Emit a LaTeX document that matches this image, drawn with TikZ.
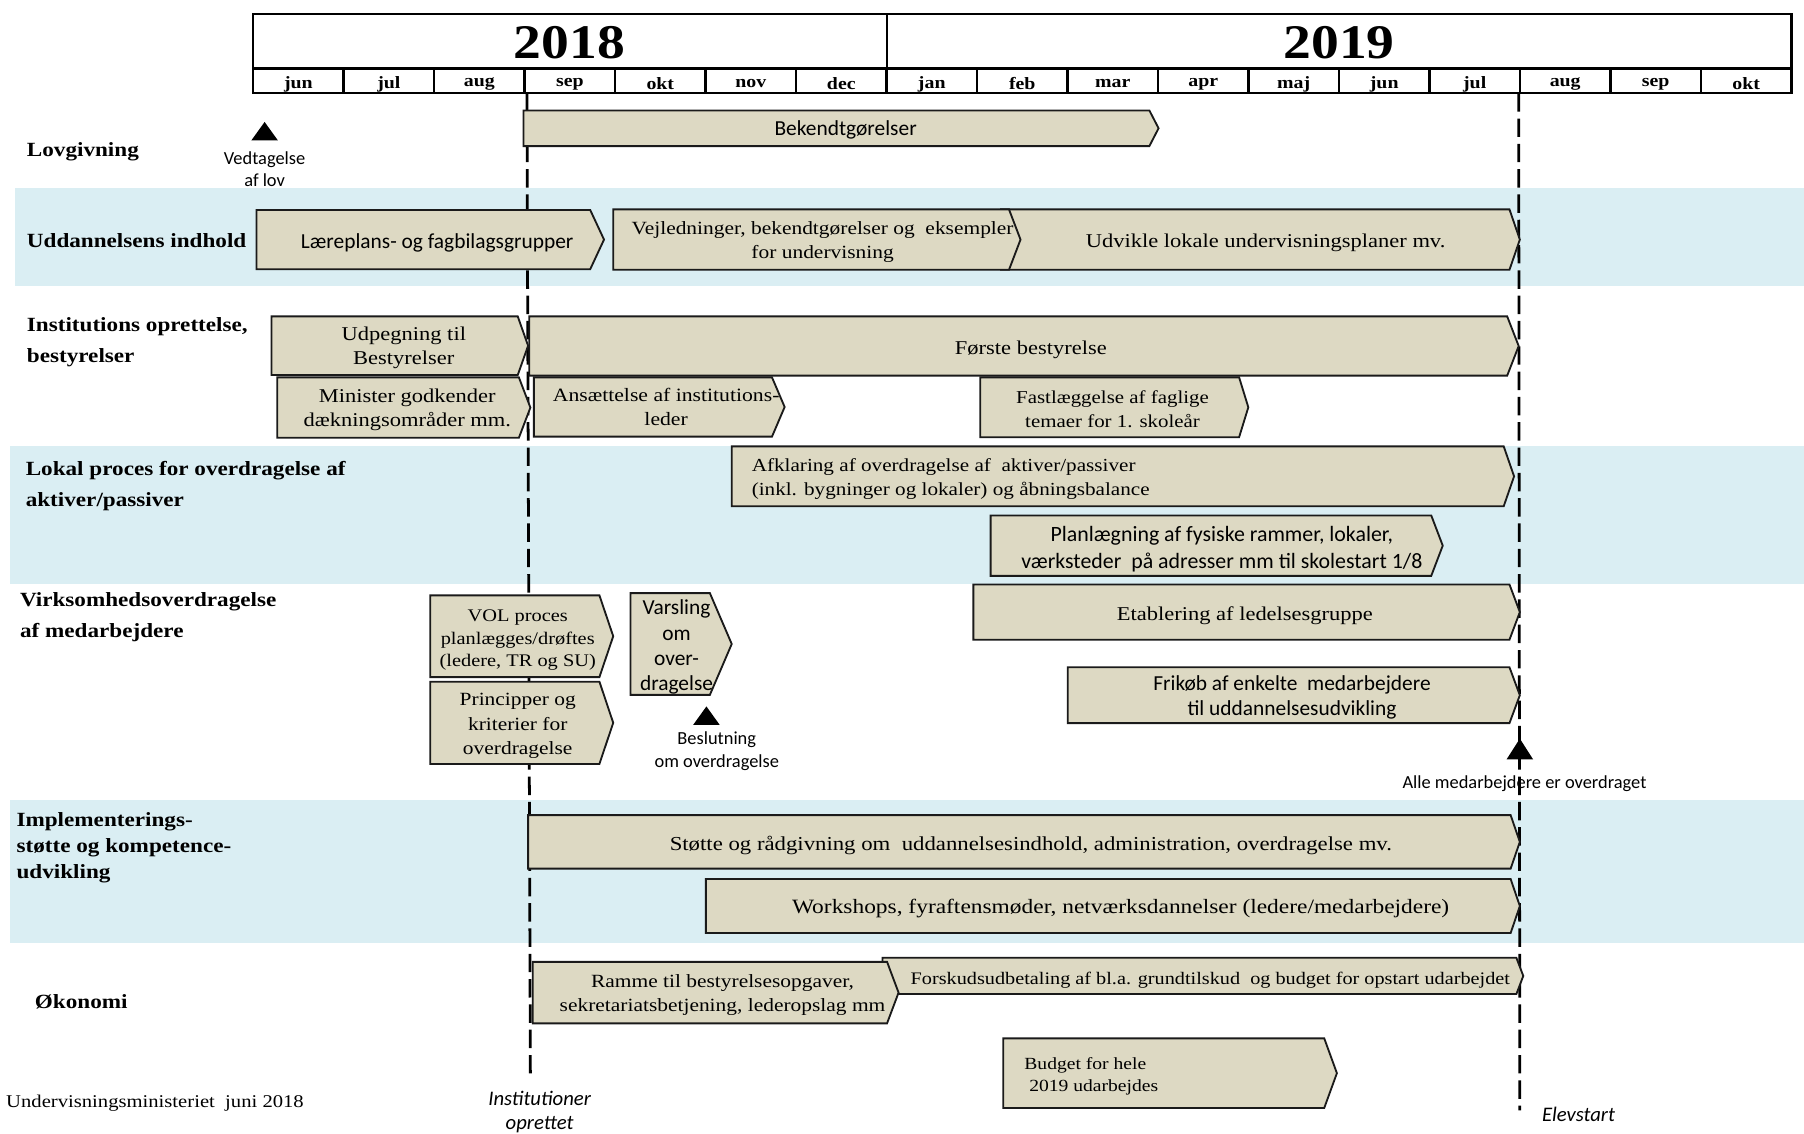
\documentclass[tikz,border=0pt]{standalone}
\usepackage{fontspec}
\setmainfont{Liberation Serif}[FakeStretch=1.15]
\newfontfamily\calsans{Carlito}
\definecolor{bandblue}{HTML}{DAEEF3}
\definecolor{boxfill}{HTML}{DDD9C3}
\definecolor{boxline}{HTML}{1A1A1A}
\newcommand\gbar[5][10]{%
  \draw[gbarstyle] (#2,#4) -- ({#3-#1},#4) -- (#3,{(#4+#5)/2}) -- ({#3-#1},#5) -- (#2,#5) -- cycle;}
\newcommand\fs[2]{\fontsize{#1}{#2}\selectfont}
\begin{document}
\begin{tikzpicture}[x=0.5pt,y=-0.5pt,
  gbarstyle/.style={fill=boxfill,draw=boxline,line width=0.8pt,line join=miter},
  hdr/.style={draw=black,line width=1pt,fill=white},
  serif/.style={font=\fs{8.5}{10.5},align=center,inner sep=0pt,yshift=-1pt},
  sans/.style={font=\calsans\fs{9.3}{11},align=center,inner sep=0pt,yshift=-1pt},
  lab/.style={font=\bfseries\fs{8.75}{13.5},anchor=west,align=left,inner sep=0pt,yshift=-1pt},
  small/.style={font=\calsans\fs{8}{9.8},align=center,inner sep=0pt},
  ital/.style={font=\calsans\itshape\fs{9}{10.5},align=center,inner sep=0pt},
  month/.style={font=\bfseries\fs{7.5}{9},inner sep=0pt,yshift=-1pt},
  year/.style={font=\bfseries\fs{21}{24},inner sep=0pt},
  foot/.style={font=\fs{7.8}{9},anchor=west,inner sep=0pt,yshift=-0.5pt},
  milestone/.style={fill=black},
  timeline/.style={line width=1.2pt,dash pattern=on 8pt off 3pt}
]
\useasboundingbox (0,0) rectangle (1568,985);
% bands
\fill[bandblue] (13,163) rectangle (1568,249);
\fill[bandblue] (9,388) rectangle (1568,508);
\fill[bandblue] (9,695) rectangle (1568,820);
% time lines
\coordinate (instTop) at (458,81);
\coordinate (instBot) at (461,936);
\coordinate (eleTop) at (1320,81);
\coordinate (eleBot) at (1321,965);
\draw[timeline] (instTop) -- (instBot);
\draw[timeline] (eleTop) -- (eleBot);
% header
\draw[hdr] (220,12) rectangle (771,59);
\draw[hdr] (771,12) rectangle (1557,59);
\node[year] (y2018) at (495,37.5) {2018};
\node[year] (y2019) at (1164,37.5) {2019};
\foreach \m [count=\i from 0] in {jun,jul,aug,sep,okt,nov,dec,jan,feb,mar,apr,maj,jun,jul,aug,sep,okt}{
  \draw[hdr] ({220+\i*78.65},60) rectangle ({220+(\i+1)*78.65},81);
  \node[month] (m\i) at ({220+(\i+0.5)*78.65},71) {\m};
}
% row labels
\node[lab] (lLov) at (23,130) {Lovgivning};
\node[lab] (lUdd) at (23,207) {Uddannelsens indhold};
\node[lab] (lInst) at (23,295.5) {Institutions oprettelse,\\bestyrelser};
\node[lab] (lLok) at (22,420.5) {Lokal proces for overdragelse af\\aktiver/passiver};
\node[lab] (lVirk) at (17,534.5) {Virksomhedsoverdragelse\\af medarbejdere};
\node[lab,font=\bfseries\fs{8.75}{11.25}] (lImp) at (14,734.5) {Implementerings-\\støtte og kompetence-\\udvikling};
\node[lab] (lOko) at (30,869) {Økonomi};
\node[foot] (foot) at (5,958) {Undervisningsministeriet\ \ juni 2018};
% boxes
\gbar[8]{455}{1007}{96}{127}
\node[sans] (tBek) at (735,111) {Bekendtgørelser};
\gbar[12]{223}{525}{182.5}{234}
\node[sans] (tLaer) at (380,209) {Læreplans- og fagbilagsgrupper};
\gbar[9]{870}{1321}{182}{234.5}
\node[serif] (tUdv) at (1100,209) {Udvikle lokale undervisningsplaner mv.};
\gbar[10]{533}{887}{182}{234.5}
\node[serif,font=\fs{8.1}{10.5}] (tVej) at (715,208.5) {Vejledninger, bekendtgørelser og\ \ eksempler\\for undervisning};
\gbar[9]{236}{459}{275}{326}
\node[serif] (tUdp) at (351,300.5) {Udpegning til\\Bestyrelser};
\gbar[10]{460}{1320}{275}{326.5}
\node[serif] (tFor) at (896,302) {Første bestyrelse};
\gbar[10]{241}{461}{328}{380.5}
\node[serif] (tMin) at (354,354) {Minister godkender\\dækningsområder mm.};
\gbar[11]{464}{682}{328}{379.5}
\node[serif,font=\fs{8.2}{10.5}] (tAns) at (579,351.5) {Ansættelse af institutions-\\leder};
\gbar[8]{852}{1085}{328}{380}
\node[serif,font=\fs{7.9}{10.5}] (tFast) at (967,353.5) {Fastlæggelse af faglige\\temaer for 1. skoleår};
\gbar[9]{636}{1316}{388}{440}
\node[serif,anchor=west,align=left,font=\fs{8}{10.5}] (tAfk) at (653,414.5) {Afklaring af overdragelse af\ \ aktiver/passiver\\(inkl. bygninger og lokaler) og åbningsbalance};
\gbar[10]{861}{1254}{448}{500.5}
\node[sans,font=\calsans\fs{9.5}{11.5}] (tPlan) at (1062,475.5) {Planlægning af fysiske rammer, lokaler,\\værksteder\ \ på adresser mm til skolestart 1/8};
\gbar[9]{846}{1321}{508}{556}
\node[serif] (tEtab) at (1082,533) {Etablering af ledelsesgruppe};
\gbar[12]{374}{533}{517.5}{588.5}
\node[serif,font=\fs{7.7}{9.75}] (tVol) at (450,554.5) {VOL proces\\planlægges/drøftes\\(ledere, TR og SU)};
\gbar[12]{374}{533}{592.5}{664}
\node[serif,font=\fs{8.1}{10.5}] (tPrin) at (450,629) {Principper og\\kriterier for\\overdragelse};
\gbar[19]{548}{636}{515.5}{604}
\node[sans] (tVars) at (588,560.5) {Varsling\\om\\over-\\dragelse};
\gbar[9]{928}{1321}{580}{628.5}
\node[sans] (tFri) at (1123,604) {Frikøb af enkelte\ \ medarbejdere\\til uddannelsesudvikling};
\gbar[8]{459}{1321}{708.5}{755}
\node[serif,font=\fs{8.6}{10.5}] (tStot) at (896,733) {Støtte og rådgivning om\ \ uddannelsesindhold, administration, overdragelse mv.};
\gbar[8]{613.5}{1321}{764}{811}
\node[serif,font=\fs{8.85}{10.5}] (tWork) at (974,788) {Workshops, fyraftensmøder, netværksdannelser (ledere/medarbejdere)};
\gbar[6]{767}{1324}{832.5}{864}
\node[serif,font=\fs{7.65}{10}] (tForsk) at (1052,850) {Forskudsudbetaling af bl.a. grundtilskud\ \ og budget for opstart udarbejdet};
\gbar[10]{463}{781}{836}{889.5}
\node[serif,font=\fs{8.1}{10.5}] (tRam) at (628,862.5) {Ramme til bestyrelsesopgaver,\\sekretariatsbetjening, lederopslag mm};
\gbar[11]{872}{1162}{902.5}{963}
\node[serif,anchor=west,align=left,font=\fs{7.4}{9.5}] (tBud) at (890,933.5) {Budget for hele\\\ 2019 udarbejdes};
% milestones
\fill[milestone] (230,106) -- (241.5,122) -- (218.5,122) -- cycle;
\node[small] (sVed) at (230,147) {Vedtagelse\\af lov};
\fill[milestone] (614,614) -- (625.5,630) -- (602.5,630) -- cycle;
\node[small] (sBes) at (623,653) {Beslutning\\om overdragelse};
\fill[milestone] (1321,642) -- (1332.5,660) -- (1309.5,660) -- cycle;
\node[small] (sAlle) at (1325,681) {Alle medarbejdere er overdraget};
% time line labels
\node[ital] (lInstit) at (469,966.5) {Institutioner\\oprettet};
\node[ital] (lElev) at (1372,969) {Elevstart};
\end{tikzpicture}
\end{document}
